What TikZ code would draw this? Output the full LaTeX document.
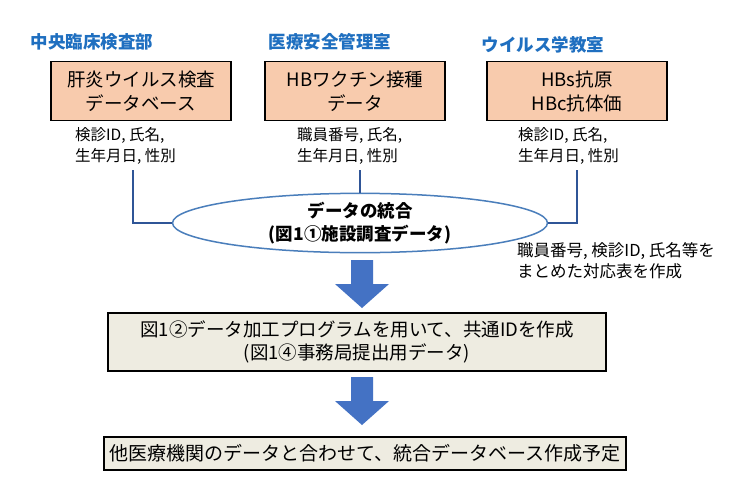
\documentclass[tikz,border=0pt]{standalone}
\usepackage{fontspec}
\setmainfont{Noto Sans CJK JP}
\usetikzlibrary{shapes.geometric}
\definecolor{peach}{HTML}{F8CBAD}
\definecolor{beige}{HTML}{EEECE1}
\definecolor{hblue}{HTML}{1F6FC0}
\definecolor{lblue}{HTML}{2F5597}
\definecolor{eblue}{HTML}{4A7EBB}
\definecolor{ablue}{HTML}{4472C4}
\begin{document}
\begin{tikzpicture}[x=1pt,y=-1pt,
  srcbox/.style={draw=black, line width=1.8pt, fill=peach, minimum width=180pt, minimum height=59pt, align=center, font=\fontsize{18.5}{24}\selectfont, inner sep=0pt},
  header/.style={text=hblue, font=\fontsize{17.5}{20}\selectfont\bfseries, inner sep=0pt},
  info/.style={align=left, anchor=north west, font=\fontsize{15.5}{21}\selectfont, inner sep=0pt},
  procbox/.style={draw=black, line width=1.8pt, fill=beige, align=center, font=\fontsize{18.5}{23}\selectfont, inner sep=0pt},
  link/.style={draw=lblue, line width=1.2pt},
  bigarrow/.style={fill=ablue}
]
\useasboundingbox (0,0) rectangle (737,477);
\fill[white] (0,0) rectangle (737,477);

% headers
\node[header] (h1) at (92,42) {中央臨床検査部};
\node[header] (h2) at (330,42) {医療安全管理室};
\node[header] (h3) at (543,45) {ウイルス学教室};

% source boxes
\node[srcbox] (b1) at (141,91) {肝炎ウイルス検査\\データベース};
\node[srcbox] (b2) at (355,91) {HBワクチン接種\\データ};
\node[srcbox] (b3) at (577,91) {HBs抗原\\HBc抗体価};

% info texts
\node[info] (i1) at (75,127) {検診ID, 氏名,\\生年月日, 性別};
\node[info] (i2) at (297,127) {職員番号, 氏名,\\生年月日, 性別};
\node[info] (i3) at (518,127) {検診ID, 氏名,\\生年月日, 性別};

% ellipse
\node[ellipse, draw=eblue, line width=1.5pt, fill=white, minimum width=375pt, minimum height=47pt, inner sep=0pt, align=center, font=\fontsize{17.5}{23}\selectfont\bfseries] (e) at (360,223) {データの統合\\(図1①施設調査データ)};

% connectors
\coordinate (c1) at (133,170);
\coordinate (c2) at (360,170);
\coordinate (c3) at (577,170);
\draw[link] (c1) |- (e.west);
\draw[link] (c2) -- (e.north);
\draw[link] (c3) |- (e.east);

% note
\node[info, font=\fontsize{16.5}{21}\selectfont] (n) at (517,242) {職員番号, 検診ID, 氏名等を\\まとめた対応表を作成};

% process boxes
\node[procbox, minimum width=498pt, minimum height=58pt] (p1) at (357,342) {図1②データ加工プログラムを用いて、共通IDを作成\\(図1④事務局提出用データ)};
\node[procbox, minimum width=522pt, minimum height=33pt, font=\fontsize{19}{23}\selectfont] (p2) at (365,453.5) {他医療機関のデータと合わせて、統合データベース作成予定};

% block arrows
\coordinate (a1) at (362,260);
\coordinate (a2) at (362,377);
\fill[bigarrow, shift={(a1)}] (-11,0) -- (11,0) -- (11,24) -- (27,24) -- (0,48) -- (-27,24) -- (-11,24) -- cycle;
\fill[bigarrow, shift={(a2)}] (-11,0) -- (11,0) -- (11,24) -- (27,24) -- (0,48) -- (-27,24) -- (-11,24) -- cycle;
\end{tikzpicture}
\end{document}
